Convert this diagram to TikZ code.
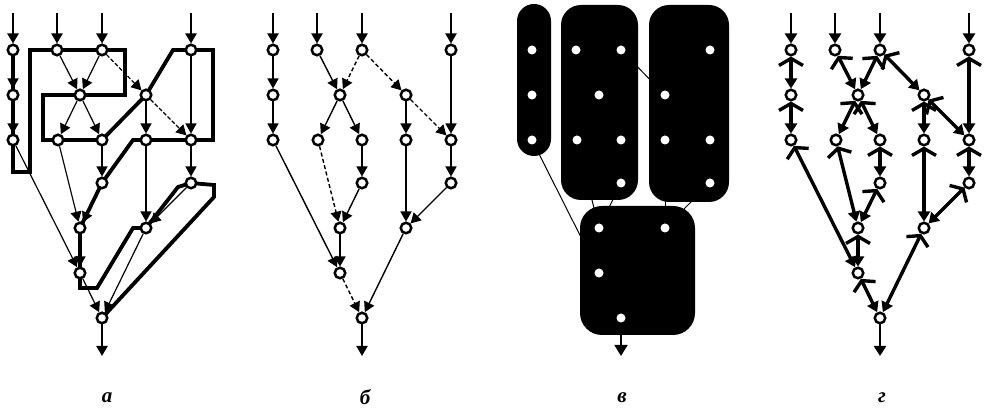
\documentclass[tikz,border=0pt]{standalone}
\usepackage{fontspec}
\newfontfamily\lblfont{Liberation Serif}
\usetikzlibrary{arrows.meta}
\pgfdeclarelayer{bgpaper}
\pgfdeclarelayer{edges}
\pgfdeclarelayer{boxes}
\pgfsetlayers{bgpaper,edges,boxes,main}
\tikzset{
  vtx/.style={circle,draw=black,line width=2.5pt,fill=white,inner sep=0pt,minimum size=10.5pt},
  wdot/.style={circle,fill=white,inner sep=0pt,minimum size=9pt},
  lbl/.style={font=\lblfont\bfseries\itshape\fontsize{21}{21}\selectfont},
  blk/.style={fill=black,draw=none},
  thk/.style={line width=3.8pt,line join=miter},
  thinedge/.style={line width=1pt},
}
\newcommand\mknodes[3]{%
  \node[#3] (#1A1) at (#2+13,50) {};
  \node[#3] (#1A2) at (#2+13,95) {};
  \node[#3] (#1A3) at (#2+13,140) {};
  \node[#3] (#1B1) at (#2+57,50) {};
  \node[#3] (#1C1) at (#2+102,50) {};
  \node[#3] (#1D1) at (#2+191,50) {};
  \node[#3] (#1E) at (#2+80,95) {};
  \node[#3] (#1F) at (#2+146,95) {};
  \node[#3] (#1G1) at (#2+58,140) {};
  \node[#3] (#1G2) at (#2+102,140) {};
  \node[#3] (#1H) at (#2+146,140) {};
  \node[#3] (#1I) at (#2+191,140) {};
  \node[#3] (#1J) at (#2+102,183) {};
  \node[#3] (#1K) at (#2+191,183) {};
  \node[#3] (#1L) at (#2+80,228) {};
  \node[#3] (#1M) at (#2+146,228) {};
  \node[#3] (#1N) at (#2+80,273) {};
  \node[#3] (#1O) at (#2+102,318) {};
  \coordinate (#1inA) at (#2+13,13);
  \coordinate (#1inB) at (#2+57,13);
  \coordinate (#1inC) at (#2+102,13);
  \coordinate (#1inD) at (#2+191,13);
  \coordinate (#1out) at (#2+102,356);
}
\newcommand\mkedges[1]{%
  \draw[ed] (#1A1) -- (#1A2);
  \draw[ed] (#1A2) -- (#1A3);
  \draw[ed] (#1B1) -- (#1E);
  \draw[ed,dsB] (#1C1) -- (#1E);
  \draw[ed,dsA] (#1C1) -- (#1F);
  \draw[ed] (#1E) -- (#1G1);
  \draw[ed] (#1E) -- (#1G2);
  \draw[ed] (#1F) -- (#1H);
  \draw[ed,dsA] (#1F) -- (#1I);
  \draw[ed] (#1D1) -- (#1I);
  \draw[ed] (#1G2) -- (#1J);
  \draw[ed] (#1I) -- (#1K);
  \draw[ed] (#1A3) -- (#1N);
  \draw[ed,dsB] (#1G1) -- (#1L);
  \draw[ed] (#1J) -- (#1L);
  \draw[ed] (#1H) -- (#1M);
  \draw[ed] (#1K) -- (#1M);
  \draw[ed] (#1L) -- (#1N);
  \draw[ed,dsB] (#1N) -- (#1O);
  \draw[ed] (#1M) -- (#1O);
  \draw[io] (#1inA) -- (#1A1);
  \draw[io] (#1inB) -- (#1B1);
  \draw[io] (#1inC) -- (#1C1);
  \draw[io] (#1inD) -- (#1D1);
  \draw[io] (#1O) -- (#1out);
}
\begin{document}
\begin{tikzpicture}[x=1pt,y=-1pt]
\useasboundingbox (0,0) rectangle (989,411);
\begin{pgfonlayer}{bgpaper}
\fill[white] (0,0) rectangle (989,411);
\end{pgfonlayer}
% nodes of the four panels
\mknodes{a}{0}{vtx}
\mknodes{b}{260}{vtx}
\mknodes{v}{519}{wdot}
\mknodes{g}{778}{vtx}

% panel a
\begin{pgfonlayer}{edges}
\begin{scope}[ed/.style={line width=1.2pt,-{Triangle[width=11pt,length=10pt]}},
  dsA/.style={dash pattern=on 4pt off 2pt}, dsB/.style={},
  io/.style={line width=2.6pt,-{Triangle[width=11pt,length=10pt]}}]
\mkedges{a}
\end{scope}
\draw[thk] (aA1.center) -- (aA2.center) -- (aA3.center) -- (13,172) -- (30,172)
  -- (30,50) -- (aB1.center) -- (aC1.center) -- (125,50) -- (125,95)
  -- (aE.center) -- (43,95) -- (43,140) -- (aG1.center) -- (aG2.center)
  -- (aF.center) -- (173,50) -- (aD1.center) -- (213,50) -- (213,140)
  -- (aI.center) -- (aH.center) -- (133,140) -- (aJ.center) -- (aL.center)
  -- (aN.center) -- (80,288) -- (97,288) -- (133,228) -- (aM.center)
  -- (178,187) -- (aK.center) -- (214,185) -- (214,197) -- (aO.center);
\end{pgfonlayer}

% panel b
\begin{pgfonlayer}{edges}
\begin{scope}[ed/.style={line width=1.4pt,-{Triangle[width=11pt,length=10pt]}},
  dsA/.style={dash pattern=on 4pt off 2.5pt}, dsB/.style={dash pattern=on 4pt off 2.5pt},
  io/.style={line width=2pt,-{Triangle[width=11pt,length=10pt]}}]
\mkedges{b}
\end{scope}
\end{pgfonlayer}

% panel v
\begin{pgfonlayer}{edges}
\draw[thinedge] (vA3) -- (vN);
\draw[thinedge] (vC1) -- (vF);
\draw[thinedge] (vG1) -- (vL);
\draw[thinedge] (vJ) -- (vL);
\draw[thinedge] (vH) -- (vM);
\draw[thinedge] (vK) -- (vM);
\draw[line width=1.6pt,-{Triangle[width=13pt,length=11pt]}] (vO.center) -- (vout);
\end{pgfonlayer}
\begin{pgfonlayer}{boxes}
\node[blk,rounded corners=17pt,minimum width=34pt,minimum height=152pt] (vbox1) at (534,80) {};
\node[blk,rounded corners=20pt,minimum width=77pt,minimum height=195pt] (vbox2) at (599.5,102.5) {};
\node[blk,rounded corners=20pt,minimum width=80pt,minimum height=197pt] (vbox3) at (689,103.5) {};
\node[blk,rounded corners=22pt,minimum width=115pt,minimum height=129pt] (vbox4) at (637.5,270.5) {};
\end{pgfonlayer}

% panel g
\begin{pgfonlayer}{edges}
\begin{scope}[ed/.style={line width=3.4pt,{Straight Barb[width=24pt,length=7pt]}-{Triangle[width=12pt,length=10pt]}},
  dsA/.style={}, dsB/.style={},
  io/.style={line width=2.6pt,-{Triangle[width=12pt,length=10pt]}}]
\mkedges{g}
\end{scope}
\end{pgfonlayer}

% labels
\node[lbl] (la) at (107,398) {а};
\node[lbl] (lb) at (365,397) {б};
\node[lbl] (lv) at (622,398) {в};
\node[lbl] (lg) at (882,398) {г};
\end{tikzpicture}
\end{document}
